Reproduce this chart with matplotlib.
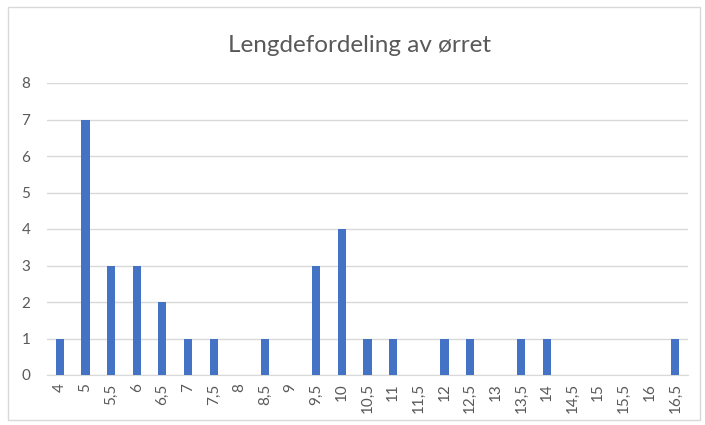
import matplotlib.pyplot as plt
from matplotlib.patches import Rectangle
import numpy as np

# Data
lengths = ["4", "5", "5,5", "6", "6,5", "7", "7,5", "8", "8,5", "9", "9,5", "10", "10,5",
           "11", "11,5", "12", "12,5", "13", "13,5", "14", "14,5", "15", "15,5", "16", "16,5"]
counts = [1, 7, 3, 3, 2, 1, 1, 0, 1, 0, 3, 4, 1, 1, 0, 1, 1, 0, 1, 1, 0, 0, 0, 0, 1]
y_ticks = [0, 1, 2, 3, 4, 5, 6, 7, 8]

plt.rcParams['font.family'] = ['Lato', 'DejaVu Sans']

fig = plt.figure(figsize=(7.05, 4.25), dpi=100)
ax = fig.add_axes([47 / 705, 1 - 375 / 425, (688 - 47) / 705, (375 - 83) / 425])

# Chart border
fig.patches.append(Rectangle((8 / 705, 5 / 425), 692 / 705, 413 / 425, transform=fig.transFigure,
                             fill=False, edgecolor="#D9D9D9", linewidth=1))

x = np.arange(len(lengths))
ax.bar(x, counts, width=0.32, color="#4472C4", zorder=3)

ax.set_xlim(-0.5, len(lengths) - 0.5)
ax.set_ylim(0, 8)
ax.set_yticks(y_ticks)
ax.set_xticks(x)
ax.set_xticklabels(lengths, rotation=90)
ax.grid(axis="y", color="#D9D9D9", linewidth=1, zorder=0)

for side in ["top", "right", "left"]:
    ax.spines[side].set_visible(False)
ax.spines["bottom"].set_color("#D9D9D9")
ax.tick_params(axis="both", length=0, labelsize=11, colors="#595959")
ax.tick_params(axis="y", pad=12)
ax.tick_params(axis="x", pad=6)

fig.text(0.51, 1 - 45 / 425, "Lengdefordeling av ørret", ha="center", va="center",
         fontsize=17.5, color="#595959")

fig.savefig("out.png", dpi=100)
